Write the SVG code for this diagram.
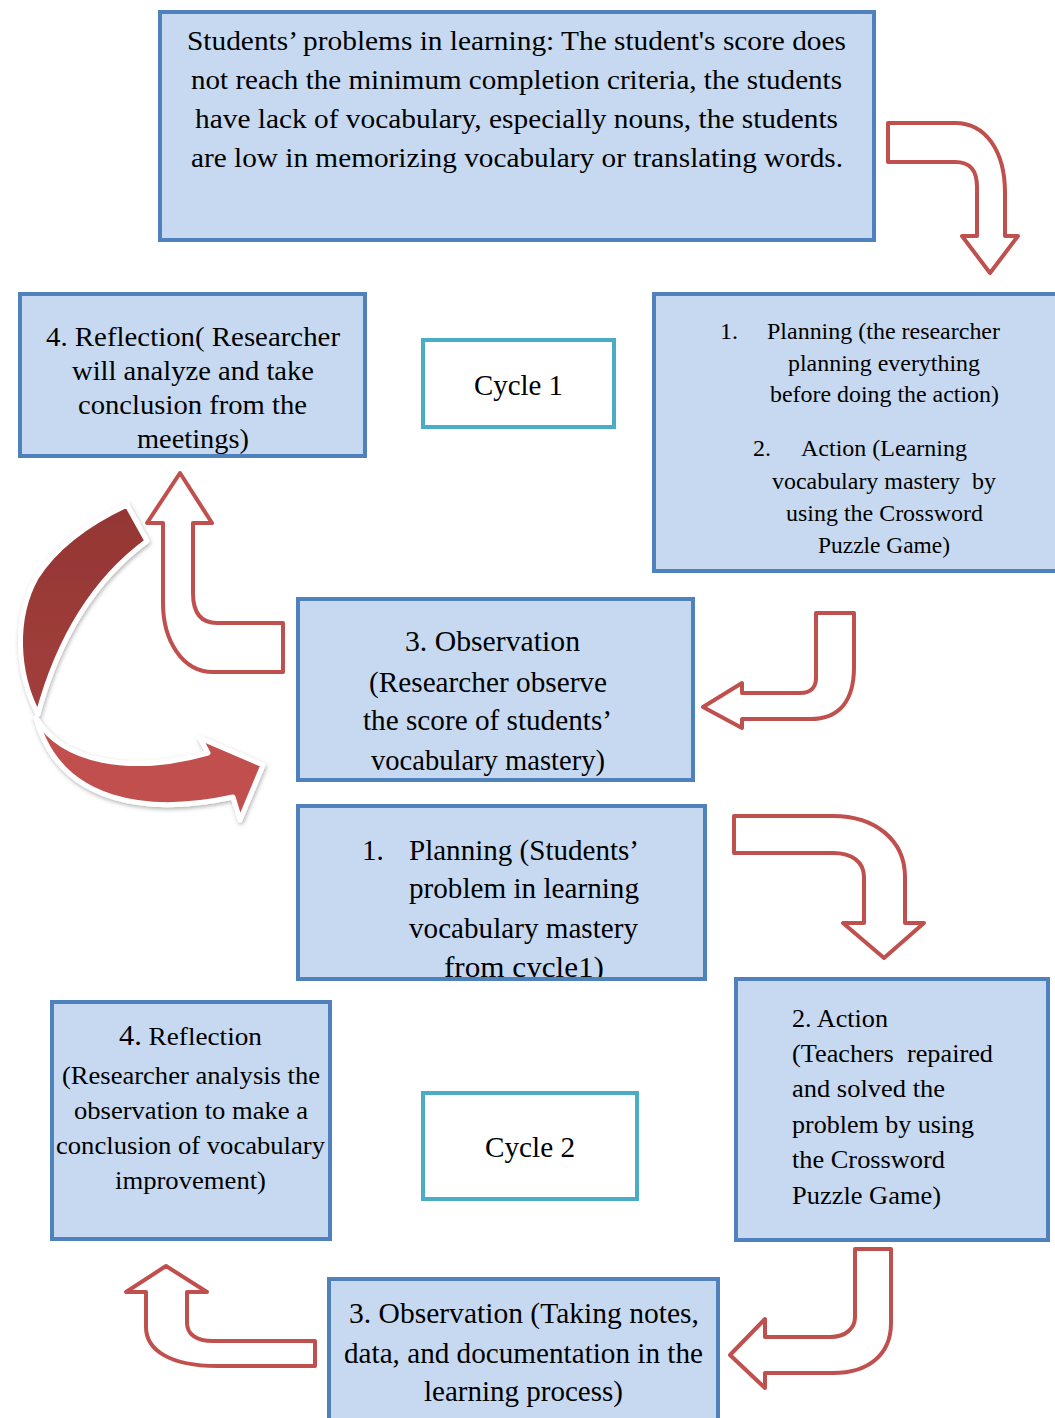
<svg xmlns="http://www.w3.org/2000/svg" width="1055" height="1418" viewBox="0 0 1055 1418">
<style>
.box{fill:#c6d9f1;stroke:#4f81bd;stroke-width:4}
.cyc{fill:#ffffff;stroke:#4bacc6;stroke-width:4}
.t{font-family:"Liberation Serif","Times New Roman",serif;fill:#000}
.c{text-anchor:middle}
.arr{fill:#ffffff;stroke:#c0504d;stroke-width:4;stroke-linejoin:round}
</style>
<defs>
<filter id="sh" x="-20%" y="-20%" width="140%" height="140%">
<feDropShadow dx="1" dy="2" stdDeviation="2" flood-color="#000" flood-opacity="0.3"/>
</filter>
<linearGradient id="g1" x1="0" y1="0" x2="0" y2="1">
<stop offset="0" stop-color="#943634"/>
<stop offset="1" stop-color="#a23f3c"/>
</linearGradient>
<clipPath id="clipP2"><rect x="298" y="806" width="407" height="173"/></clipPath>
</defs>
<rect width="1055" height="1418" fill="#ffffff"/>

<g id="node-problems">
<rect class="box" x="160" y="12" width="714" height="228"/>
<g class="t" font-size="28">
<text x="187" y="50" textLength="659" lengthAdjust="spacingAndGlyphs">Students’ problems in learning: The student's score does</text>
<text x="191" y="89" textLength="651" lengthAdjust="spacingAndGlyphs">not reach the minimum completion criteria, the students</text>
<text x="195" y="128" textLength="643" lengthAdjust="spacingAndGlyphs">have lack of vocabulary, especially nouns, the students</text>
<text x="191" y="167" textLength="652" lengthAdjust="spacingAndGlyphs">are low in memorizing vocabulary or translating words.</text>
</g>
</g>

<g id="node-reflection1">
<rect class="box" x="20" y="294" width="345" height="162"/>
<g class="t" font-size="28">
<text x="46" y="346" textLength="294" lengthAdjust="spacingAndGlyphs">4. Reflection( Researcher</text>
<text x="72" y="380" textLength="242" lengthAdjust="spacingAndGlyphs">will analyze and take</text>
<text x="78" y="414" textLength="229" lengthAdjust="spacingAndGlyphs">conclusion from the</text>
<text x="137" y="448" textLength="112" lengthAdjust="spacingAndGlyphs">meetings)</text>
</g>
</g>

<g id="node-cycle1">
<rect class="cyc" x="423" y="340" width="191" height="87"/>
<text class="t" font-size="29" x="474" y="395" textLength="89" lengthAdjust="spacingAndGlyphs">Cycle 1</text>
</g>

<g id="node-plan-action1">
<rect class="box" x="654" y="294" width="410" height="277"/>
<g class="t" font-size="24">
<text x="720" y="339">1.</text>
<text x="767" y="339" textLength="233" lengthAdjust="spacingAndGlyphs">Planning (the researcher</text>
<text x="788" y="371" textLength="192" lengthAdjust="spacingAndGlyphs">planning everything</text>
<text x="770" y="402" textLength="229" lengthAdjust="spacingAndGlyphs">before doing the action)</text>
<text x="753" y="456">2.</text>
<text x="801" y="456" textLength="166" lengthAdjust="spacingAndGlyphs">Action (Learning</text>
<text x="772" y="489" textLength="224" lengthAdjust="spacingAndGlyphs" xml:space="preserve">vocabulary mastery  by</text>
<text x="786" y="521" textLength="197" lengthAdjust="spacingAndGlyphs">using the Crossword</text>
<text x="818" y="553" textLength="132" lengthAdjust="spacingAndGlyphs">Puzzle Game)</text>
</g>
</g>

<g id="node-observation1">
<rect class="box" x="298" y="599" width="395" height="181"/>
<g class="t" font-size="29">
<text x="405" y="651" textLength="175" lengthAdjust="spacingAndGlyphs">3. Observation</text>
<text x="369" y="692" textLength="238" lengthAdjust="spacingAndGlyphs">(Researcher observe</text>
<text x="363" y="730" textLength="249" lengthAdjust="spacingAndGlyphs">the score of students’</text>
<text x="371" y="770" textLength="234" lengthAdjust="spacingAndGlyphs">vocabulary mastery)</text>
</g>
</g>

<g id="node-planning2">
<rect class="box" x="298" y="806" width="407" height="173"/>
<g clip-path="url(#clipP2)" class="t" font-size="29">
<text x="362" y="860">1.</text>
<text x="409" y="860" textLength="230" lengthAdjust="spacingAndGlyphs">Planning (Students’</text>
<text x="409" y="898" textLength="230" lengthAdjust="spacingAndGlyphs">problem in learning</text>
<text x="409" y="938" textLength="229" lengthAdjust="spacingAndGlyphs">vocabulary mastery</text>
<text x="444" y="977" textLength="160" lengthAdjust="spacingAndGlyphs">from cycle1)</text>
</g>
<rect x="298" y="806" width="407" height="173" fill="none" stroke="#4f81bd" stroke-width="4"/>
</g>

<g id="node-action2">
<rect class="box" x="736" y="979" width="312" height="261"/>
<g class="t" font-size="26">
<text x="792" y="1027" textLength="96" lengthAdjust="spacingAndGlyphs">2. Action</text>
<text x="792" y="1062" textLength="201" lengthAdjust="spacingAndGlyphs" xml:space="preserve">(Teachers  repaired</text>
<text x="792" y="1097" textLength="153" lengthAdjust="spacingAndGlyphs">and solved the</text>
<text x="792" y="1133" textLength="182" lengthAdjust="spacingAndGlyphs">problem by using</text>
<text x="792" y="1168" textLength="153" lengthAdjust="spacingAndGlyphs">the Crossword</text>
<text x="792" y="1204" textLength="149" lengthAdjust="spacingAndGlyphs">Puzzle Game)</text>
</g>
</g>

<g id="node-reflection2">
<rect class="box" x="52" y="1002" width="278" height="237"/>
<g class="t" font-size="26">
<text x="119" y="1045" textLength="143" lengthAdjust="spacingAndGlyphs"><tspan font-size="29">4.</tspan> Reflection</text>
<text x="62" y="1084" textLength="258" lengthAdjust="spacingAndGlyphs">(Researcher analysis the</text>
<text x="74" y="1119" textLength="234" lengthAdjust="spacingAndGlyphs">observation to make a</text>
<text x="56" y="1154" textLength="269" lengthAdjust="spacingAndGlyphs">conclusion of vocabulary</text>
<text x="115" y="1189" textLength="151" lengthAdjust="spacingAndGlyphs">improvement)</text>
</g>
</g>

<g id="node-cycle2">
<rect class="cyc" x="423" y="1093" width="214" height="106"/>
<text class="t" font-size="29" x="485" y="1157" textLength="90" lengthAdjust="spacingAndGlyphs">Cycle 2</text>
</g>

<g id="node-observation2">
<rect class="box" x="329" y="1279" width="389" height="145"/>
<g class="t" font-size="29">
<text x="349" y="1323" textLength="350" lengthAdjust="spacingAndGlyphs">3. Observation (Taking notes,</text>
<text x="344" y="1363" textLength="359" lengthAdjust="spacingAndGlyphs">data, and documentation in the</text>
<text x="424" y="1401" textLength="199" lengthAdjust="spacingAndGlyphs">learning process)</text>
</g>
</g>

<g id="connectors">
<path id="arrow-problems-plan" class="arr" d="M888,123 L955,123 C985,123 1005,150 1005,193 L1005,236 L1018,236 L990,273 L962,236 L977,236 L977,187 C977,170 970,162 955,162 L888,162 Z"/>
<path id="arrow-plan-obs1" class="arr" d="M816,613 L854,613 L854,667 C854,700 840,719 810,719 L742,719 L742,728 L703,707 L742,683 L742,693 L800,693 C810,693 816,688 816,678 Z"/>
<g id="arrow-cycle-curved" filter="url(#sh)">
<path d="M127,505 L147,541 C105,572 62,625 38,714 C16,672 14,618 36,578 C58,543 95,520 127,505 Z" fill="url(#g1)" stroke="#ffffff" stroke-width="5" stroke-linejoin="round"/>
<path d="M36,718 C62,762 130,775 208,753 L200,738 L263,765 L240,820 L233,797 C150,815 60,805 36,718 Z" fill="#c0504d" stroke="#ffffff" stroke-width="5" stroke-linejoin="round"/>
</g>
<path id="arrow-obs1-refl1" class="arr" d="M180,473 L212,523 L193,523 L193,593 C193,612 200,623 217,623 L283,623 L283,672 L213,672 C182,672 163,640 163,603 L163,523 L147,523 Z"/>
<path id="arrow-plan2-action2" class="arr" d="M734,816 L833,816 C875,816 905,840 905,877 L905,923 L924,923 L884,958 L843,923 L864,923 L864,877 C864,862 852,853 833,853 L734,853 Z"/>
<path id="arrow-action2-obs2" class="arr" d="M855,1249 L891,1249 L891,1323 C891,1355 868,1373 833,1373 L765,1373 L765,1388 L730,1355 L765,1319 L765,1337 L830,1337 C846,1337 855,1328 855,1317 Z"/>
<path id="arrow-obs2-refl2" class="arr" d="M166,1266 L207,1292 L187,1292 L187,1323 C187,1334 196,1341 213,1341 L315,1341 L315,1366 L217,1366 C170,1366 146,1350 146,1327 L146,1292 L126,1292 Z"/>
</g>
</svg>
